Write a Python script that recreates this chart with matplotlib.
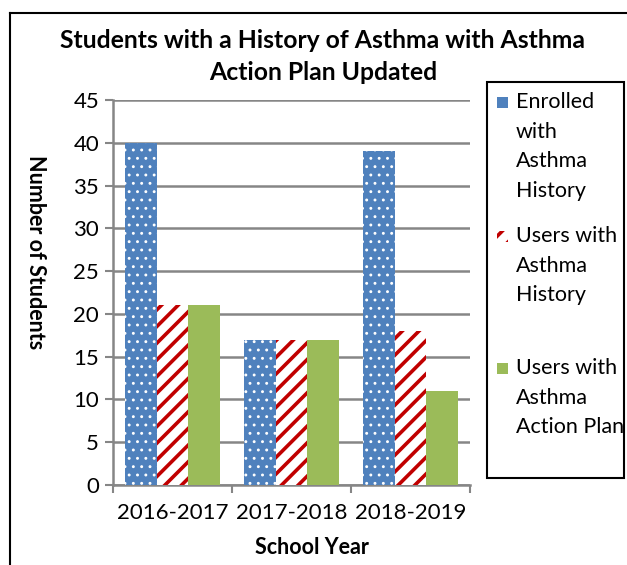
import matplotlib
matplotlib.use("Agg")
import matplotlib.pyplot as plt
import numpy as np
from matplotlib.patches import Rectangle
from matplotlib.lines import Line2D

categories = ["2016-2017", "2017-2018", "2018-2019"]
series_names = ["Enrolled\nwith\nAsthma\nHistory", "Users with\nAsthma\nHistory", "Users with\nAsthma\nAction Plan"]
enrolled = [40, 17, 39]
users_history = [21, 17, 18]
users_plan = [21, 17, 11]
yticks = [0, 5, 10, 15, 20, 25, 30, 35, 40, 45]

plt.rcParams['font.family'] = ['Lato', 'DejaVu Sans']

W, H = 627, 565
fig = plt.figure(figsize=(W / 100, H / 100), dpi=100)
ax = fig.add_axes([113 / W, 1 - 485 / H, (470 - 113) / W, (485 - 100) / H])

blue = '#4F81BD'
red = '#C00000'
green = '#9BBB59'
grid_c = '#868686'

x = np.arange(len(categories))
bw = 1 / 3.75

def bars(vals, offset, face, edge, hatch, hlw):
    with plt.rc_context({'hatch.linewidth': hlw}):
        bc = ax.bar(x + offset * bw, vals, bw, color=face, edgecolor=edge, hatch=hatch, linewidth=0, zorder=3)
    for p in bc:
        if hasattr(p, 'set_hatch_linewidth'):
            p.set_hatch_linewidth(hlw)
    return bc

bars(enrolled, -1, blue, 'white', '..', 0.9)
bars(users_history, 0, 'white', red, '//', 2.6)
bars(users_plan, 1, green, green, None, 1.0)

ax.set_xlim(-0.5, 2.5)
ax.set_ylim(0, 45)
ax.set_yticks(yticks)
ax.set_xticks([-0.5, 0.5, 1.5, 2.5], minor=False)
ax.set_xticklabels([])
ax.set_xticks(x, minor=True)
ax.set_xticklabels(categories, minor=True, fontsize=16)
ax.tick_params(axis='x', which='minor', length=0, pad=13)
ax.tick_params(axis='x', which='major', length=6, width=1.5, color=grid_c)
ax.tick_params(axis='y', length=6, width=1.5, color=grid_c, labelsize=16, pad=4)
ax.grid(axis='y', color=grid_c, linewidth=1.8, zorder=0)
ax.set_axisbelow(True)
for s in ['top', 'right']:
    ax.spines[s].set_visible(False)
for s in ['left', 'bottom']:
    ax.spines[s].set_color(grid_c)
    ax.spines[s].set_linewidth(1.8)

# Titles and labels
fig.text(323 / W, 1 - 40 / H, "Students with a History of Asthma with Asthma", ha='center', va='center',
         fontsize=17.8, fontweight='bold')
fig.text(323 / W, 1 - 72 / H, "Action Plan Updated", ha='center', va='center', fontsize=17.8, fontweight='bold')
fig.text(312 / W, 1 - 547 / H, "School Year", ha='center', va='center', fontsize=15.5, fontweight='bold')
fig.text(35 / W, 1 - 252 / H, "Number of Students", ha='center', va='center', fontsize=15.5,
         fontweight='bold', rotation=270)

# Outer frame
fig.add_artist(Line2D([10 / W, 10 / W], [0, 1 - 13 / H], color='black', linewidth=1.5, transform=fig.transFigure))
fig.add_artist(Line2D([10 / W, 1], [1 - 13 / H, 1 - 13 / H], color='black', linewidth=1.5, transform=fig.transFigure))

# Legend box
fig.add_artist(Rectangle((487 / W, 1 - 478 / H), (624 - 487) / W, (478 - 82) / H, transform=fig.transFigure,
                         facecolor='white', edgecolor='black', linewidth=1.5))
leg_tops = [102, 236, 368]
styles = [(blue, blue, None, 1.0), ('white', red, '//', 2.6), (green, green, None, 1.0)]
for name, top, (fc, ec, hatch, hlw) in zip(series_names, leg_tops, styles):
    with plt.rc_context({'hatch.linewidth': hlw}):
        r = Rectangle((497 / W, 1 - (top + 6) / H), 11 / W, 11 / H, transform=fig.transFigure,
                      facecolor=fc, edgecolor=ec, hatch=hatch, linewidth=0)
    if hasattr(r, 'set_hatch_linewidth'):
        r.set_hatch_linewidth(hlw)
    fig.add_artist(r)
    for i, line in enumerate(name.split("\n")):
        fig.text(516 / W, 1 - (top + i * 29.5) / H, line, ha='left', va='center', fontsize=15.5)

fig.savefig("out.png", dpi=100)
